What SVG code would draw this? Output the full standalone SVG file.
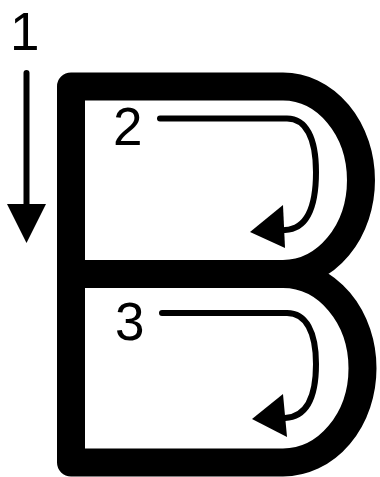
<svg xmlns="http://www.w3.org/2000/svg" width="380" height="477" viewBox="0 0 380 477">
  <style>
    .letter { fill: none; stroke: #000; stroke-width: 28; stroke-linejoin: round; }
    .guide { fill: none; stroke: #000; stroke-width: 6; stroke-linecap: round; }
    .head { fill: #000; }
    .num { font-family: "Liberation Sans", Arial, sans-serif; font-size: 53px; fill: #000; }
  </style>
  <rect width="380" height="477" fill="#fff"/>
  <g id="letter-B">
    <path class="letter" d="M71,462.5 V86.5 H283 A78,93.75 0 0 1 283,274 A79.5,94.25 0 0 1 283,462.5 Z"/>
    <path class="letter" stroke-linejoin="miter" d="M71,274 H283"/>
  </g>
  <g id="connectors">
    <path class="guide" stroke-width="7" stroke-linecap="butt" d="M26.5,73 V206"/>
    <polygon class="head" points="7,204 46,204 26.5,243"/>
    <path class="guide" d="M160,118.5 H287 C306,118.5 316,138 316,172 C316,208 306,229 285,230"/>
    <polygon class="head" points="250,232 283,205 285,248"/>
    <path class="guide" d="M162,313 H287 C306,313 316,332 316,364 C316,398 306,417 285,418"/>
    <polygon class="head" points="252,419 283,394 287,437"/>
  </g>
  <g id="label-1"><text class="num" x="10" y="50">1</text></g>
  <g id="label-2"><text class="num" x="113" y="145">2</text></g>
  <g id="label-3"><text class="num" x="115" y="340">3</text></g>
</svg>
